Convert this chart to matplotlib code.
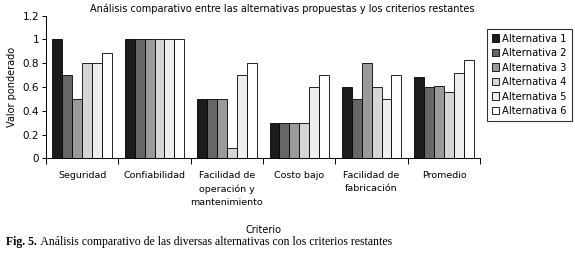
import numpy as np
import matplotlib.pyplot as plt

criterios = ["Seguridad", "Confiabilidad", "Facilidad de\noperación y\nmantenimiento",
             "Costo bajo", "Facilidad de\nfabricación", "Promedio"]
alternativas = ["Alternativa 1", "Alternativa 2", "Alternativa 3",
                "Alternativa 4", "Alternativa 5", "Alternativa 6"]
alt1 = [1.0, 1.0, 0.5, 0.3, 0.6, 0.68]
alt2 = [0.7, 1.0, 0.5, 0.3, 0.5, 0.60]
alt3 = [0.5, 1.0, 0.5, 0.3, 0.8, 0.61]
alt4 = [0.8, 1.0, 0.09, 0.3, 0.6, 0.555]
alt5 = [0.8, 1.0, 0.7, 0.6, 0.5, 0.72]
alt6 = [0.89, 1.0, 0.8, 0.7, 0.7, 0.825]
colores = ["#1c1c1c", "#666666", "#9a9a9a", "#d6d6d6", "#eeeeee", "#ffffff"]

fig = plt.figure(figsize=(5.75, 2.57), dpi=100)
ax = fig.add_axes([0.08, 0.384, 0.755, 0.555])

x = np.arange(len(criterios))
w = 0.137
series = [alt1, alt2, alt3, alt4, alt5, alt6]
for i, vals in enumerate(series):
    ax.bar(x + (i - 2.5) * w, vals, w, color=colores[i], edgecolor="black",
           linewidth=0.6, label=alternativas[i])

ax.set_xlim(-0.5, len(criterios) - 0.5)
ax.set_ylim(0, 1.2)
ax.set_yticks([0, 0.2, 0.4, 0.6, 0.8, 1, 1.2])
ax.set_yticklabels(["0", "0.2", "0.4", "0.6", "0.8", "1", "1.2"], fontsize=7.5)
ax.set_xticks(np.arange(-0.5, len(criterios)))
ax.set_xticklabels([])
ax.set_xticks(x, minor=True)
ax.set_xticklabels(criterios, minor=True, fontsize=6.8, va="top", linespacing=1.6)
ax.tick_params(axis="x", which="minor", length=0, pad=9)
ax.tick_params(axis="x", which="major", length=4, width=0.7, direction="out")
ax.tick_params(axis="y", length=3, width=0.7, pad=2)
ax.spines["top"].set_visible(False)
ax.spines["right"].set_visible(False)
ax.spines["left"].set_linewidth(0.7)
ax.spines["bottom"].set_linewidth(0.7)
ax.set_ylabel("Valor ponderado", fontsize=7, labelpad=4)
ax.set_xlabel("Criterio", fontsize=7, labelpad=13)
fig.text(0.49, 0.965, "Análisis comparativo entre las alternativas propuestas y los criterios restantes",
         fontsize=7, ha="center", va="center")

leg = ax.legend(loc="upper left", bbox_to_anchor=(1.015, 0.91), fontsize=7.2,
                frameon=True, fancybox=False, edgecolor="black", borderpad=0.5,
                handlelength=0.75, handleheight=0.75, handletextpad=0.3,
                labelspacing=0.45, borderaxespad=0)
leg.get_frame().set_linewidth(0.8)

t1 = fig.text(0.01, 0.045, "Fig. 5.", fontsize=8.5, fontweight="bold",
              family="Liberation Serif")
fig.canvas.draw()
bb = t1.get_window_extent().transformed(fig.transFigure.inverted())
fig.text(bb.x1 + 0.002, 0.045, " Análisis comparativo de las diversas alternativas con los criterios restantes",
         fontsize=8.5, family="Liberation Serif")

fig.savefig("out.png", dpi=100)
